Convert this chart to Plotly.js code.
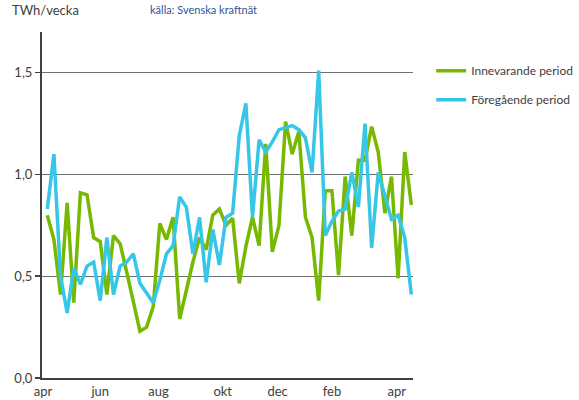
<!DOCTYPE html>
<html>
<head>
<meta charset="utf-8">
<script src="https://cdn.plot.ly/plotly-3.0.1.min.js"></script>
<style>html,body{margin:0;padding:0;background:#fff}#chart{width:579px;height:400px}</style>
</head>
<body>
<div id="chart"></div>
<script>
// week index 0..55
const innevarande = [0.80,0.68,0.41,0.86,0.37,0.91,0.90,0.69,0.67,0.41,0.70,0.66,0.52,0.37,0.23,0.25,0.35,0.76,0.68,0.79,0.29,0.43,0.57,0.69,0.63,0.80,0.83,0.75,0.785,0.465,0.645,0.79,0.65,1.15,0.62,0.75,1.26,1.10,1.21,0.79,0.69,0.38,0.92,0.92,0.505,0.99,0.70,1.07,1.07,1.235,1.11,0.81,0.99,0.49,1.11,0.85];
const foregaende = [0.83,1.10,0.50,0.32,0.54,0.46,0.55,0.57,0.38,0.69,0.41,0.55,0.57,0.61,0.465,0.42,0.37,0.48,0.61,0.65,0.89,0.84,0.61,0.79,0.47,0.73,0.555,0.79,0.81,1.19,1.35,0.79,1.17,1.11,1.16,1.22,1.23,1.24,1.22,1.18,1.01,1.51,0.70,0.77,0.82,0.83,1.01,0.84,1.25,0.64,1.01,0.90,0.78,0.80,0.69,0.41];
const weeks = innevarande.map((_, i) => i);
const monthTickPos = [-0.65, 8.0, 16.8, 26.5, 34.8, 43.0, 52.8];
const monthTickText = ['apr','jun','aug','okt','dec','feb','apr'];
const yTicks = [0, 0.5, 1.0, 1.5];

const FONT = 'Lato, "Open Sans", sans-serif';

const traces = [
  {x: weeks, y: innevarande, type: 'scatter', mode: 'lines', name: 'Innevarande period',
   line: {color: '#77B900', width: 3.5}, legendgroup: 'a'},
  {x: weeks, y: foregaende, type: 'scatter', mode: 'lines', name: 'Föregående period',
   line: {color: '#35C6E8', width: 3.5}, legendgroup: 'b'}
];

const layout = {
  width: 579, height: 400,
  margin: {l: 42, r: 166, t: 32, b: 22, pad: 0, autoexpand: false},
  paper_bgcolor: '#ffffff', plot_bgcolor: '#ffffff',
  separators: ', ',
  font: {family: FONT, size: 13, color: '#404040'},
  showlegend: true,
  legend: {x: 1.049, xanchor: 'left', y: 0.93, yanchor: 'top', bgcolor: 'rgba(0,0,0,0)',
           font: {family: FONT, size: 12, color: '#404040'}, tracegroupgap: 10},
  xaxis: {
    range: [-0.8, 55.25], tickmode: 'array', tickvals: monthTickPos, ticktext: monthTickText,
    showgrid: false, zeroline: false, showline: true, linecolor: '#404040', linewidth: 2,
    ticks: '', tickfont: {family: FONT, size: 13, color: '#404040'}, fixedrange: true
  },
  yaxis: {
    range: [0, 1.7], tickmode: 'array', tickvals: yTicks, tickformat: '.1f',
    showgrid: true, gridcolor: '#6f6f6f', gridwidth: 1.3, zeroline: false,
    showline: true, linecolor: '#404040', linewidth: 2,
    ticks: 'outside', ticklen: 5, tickcolor: '#404040', tickwidth: 1.5,
    tickfont: {family: FONT, size: 13, color: '#404040'}, fixedrange: true
  },
  annotations: [
    {text: 'TWh/vecka', xref: 'paper', yref: 'paper', x: -0.087, y: 1.065, xanchor: 'left', yanchor: 'middle',
     showarrow: false, font: {family: FONT, size: 13, color: '#404040'}},
    {text: 'källa: Svenska kraftnät', xref: 'paper', yref: 'paper', x: 0.285, y: 1.065, xanchor: 'left', yanchor: 'middle',
     showarrow: false, font: {family: FONT, size: 11, color: '#2F5597'}}
  ]
};

Plotly.newPlot('chart', traces, layout, {displayModeBar: false, staticPlot: true});
</script>
</body>
</html>
